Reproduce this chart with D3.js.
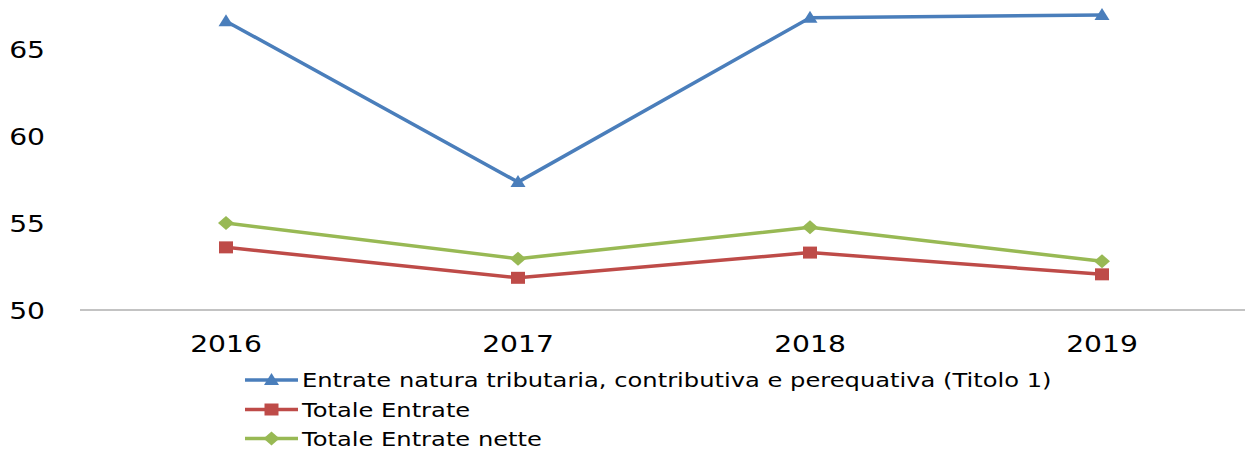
<!DOCTYPE html>
<html>
<head>
<meta charset="utf-8">
<script src="https://cdnjs.cloudflare.com/ajax/libs/d3/7.8.5/d3.min.js"></script>
<style>
  body { margin: 0; background: #fff; }
  svg { display: block; font-family: "DejaVu Sans", Verdana, sans-serif; }
</style>
</head>
<body>
<svg id="chart"></svg>
<script>
var years = ["2016", "2017", "2018", "2019"];
var yTicks = [50, 55, 60, 65];
var seriesNames = [
    "Entrate natura tributaria, contributiva e perequativa (Titolo 1)",
    "Totale Entrate",
    "Totale Entrate nette"
];
var titolo1 = [66.6, 57.35, 66.8, 66.95];
var totaleEntrate = [53.6, 51.85, 53.3, 52.05];
var totaleNette = [55.0, 52.95, 54.75, 52.8];

var colors = ["#4A7EBB", "#BE4B48", "#98B954"];
var markers = ["triangle", "square", "diamond"];

function markerPath(type) {
    if (type == "triangle") return "M0,-7L7.5,5L-7.5,5Z";
    if (type == "square") return "M-7,-6L7,-6L7,6L-7,6Z";
    return "M0,-7L8,0L0,7L-8,0Z";
}

function stretch(sel, k) {
    sel.each(function() {
        var w = this.getComputedTextLength();
        d3.select(this).attr("textLength", w * k).attr("lengthAdjust", "spacingAndGlyphs");
    });
}

function draw() {
    var width = 1245, height = 450;
    var svg = d3.select("#chart").attr("width", width).attr("height", height);

    var x = d3.scaleBand().domain(years).range([80, 1248]);
    var y = d3.scaleLinear().domain([50, 70]).range([310, 310 - 20 * 17.4]);

    // x axis line
    svg.append("line")
        .attr("x1", 80).attr("x2", 1245)
        .attr("y1", y(50)).attr("y2", y(50))
        .attr("stroke", "#888").attr("stroke-width", 1.2);

    // y axis labels
    var yAxis = svg.append("g")
        .attr("transform", "translate(45,0)")
        .call(d3.axisLeft(y).tickValues(yTicks).tickSize(0).tickPadding(0));
    yAxis.select(".domain").remove();
    yAxis.selectAll("text")
        .attr("font-size", 23.5).attr("font-family", "DejaVu Sans, sans-serif")
        .attr("fill", "#000").attr("dy", "0.36em");
    stretch(yAxis.selectAll("text"), 1.2);

    // x axis labels
    var xAxis = svg.append("g")
        .attr("transform", "translate(0," + y(50) + ")")
        .call(d3.axisBottom(x).tickSize(0).tickPadding(25));
    xAxis.select(".domain").remove();
    xAxis.selectAll("text")
        .attr("font-size", 23.5).attr("font-family", "DejaVu Sans, sans-serif")
        .attr("fill", "#000");
    stretch(xAxis.selectAll("text"), 1.2);

    var allSeries = [titolo1, totaleEntrate, totaleNette];
    var cx = function(i) { return x(years[i]) + x.bandwidth() / 2; };

    var line = d3.line()
        .x(function(d, i) { return cx(i); })
        .y(function(d) { return y(d); });

    allSeries.forEach(function(vals, s) {
        svg.append("path")
            .datum(vals)
            .attr("d", line)
            .attr("fill", "none")
            .attr("stroke", colors[s])
            .attr("stroke-width", 3.5)
            .attr("stroke-linejoin", "round");
        svg.selectAll(null)
            .data(vals)
            .enter()
            .append("path")
            .attr("d", markerPath(markers[s]))
            .attr("transform", function(d, i) { return "translate(" + cx(i) + "," + y(d) + ")"; })
            .attr("fill", colors[s]);
    });

    // legend
    var legendY = [380, 409.5, 438.5];
    seriesNames.forEach(function(name, s) {
        var g = svg.append("g").attr("transform", "translate(0," + legendY[s] + ")");
        g.append("line")
            .attr("x1", 245).attr("x2", 298)
            .attr("stroke", colors[s]).attr("stroke-width", 3.5);
        g.append("path")
            .attr("d", markerPath(markers[s]))
            .attr("transform", "translate(271.5,0)")
            .attr("fill", colors[s]);
        var t = g.append("text")
            .attr("x", 302).attr("dy", "0.36em")
            .attr("font-size", 19.5)
            .attr("fill", "#000")
            .text(name);
        stretch(t, 1.24);
    });
}

draw();
</script>
</body>
</html>
